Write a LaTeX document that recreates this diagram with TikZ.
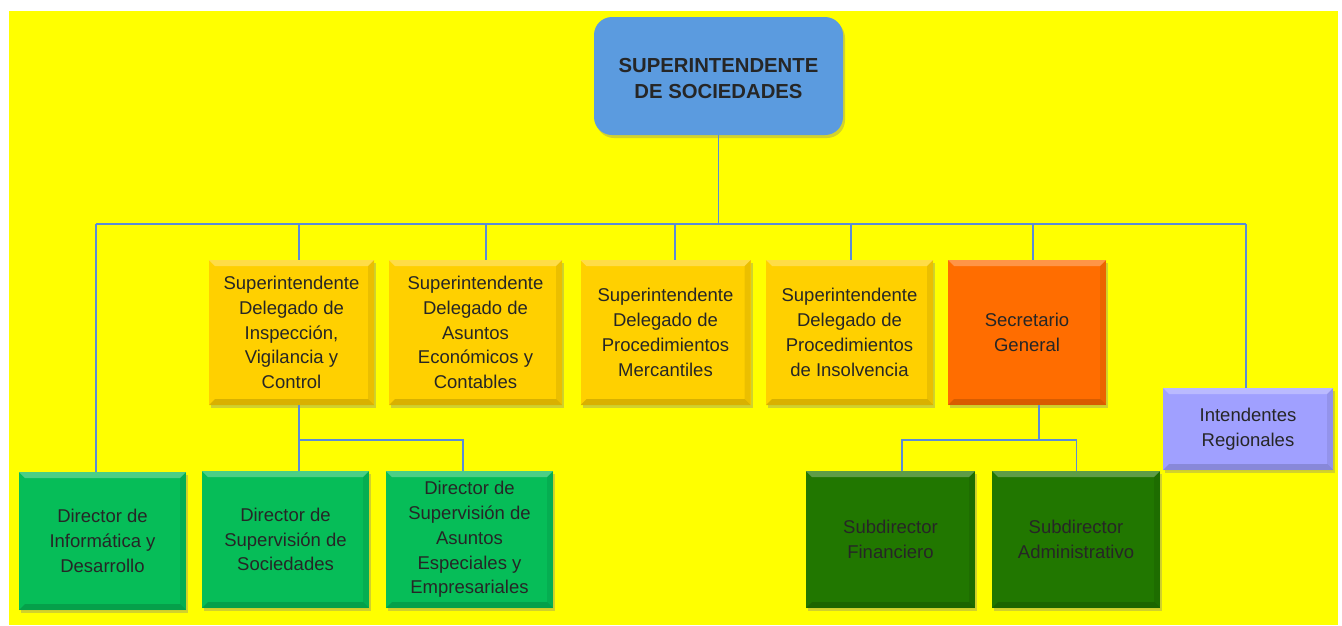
\documentclass[tikz,border=0pt]{standalone}
\usepackage{fontspec}
\setmainfont{Liberation Sans}
\usetikzlibrary{shadows,calc}
\definecolor{bgyellow}{RGB}{255,255,0}
\definecolor{topblue}{RGB}{91,155,223}
\definecolor{boxyellow}{RGB}{255,208,0}
\definecolor{boxorange}{RGB}{255,109,0}
\definecolor{boxgreen}{RGB}{6,189,88}
\definecolor{boxdark}{RGB}{33,119,0}
\definecolor{boxlav}{RGB}{160,160,255}
\definecolor{linecol}{RGB}{91,140,214}
\definecolor{txt}{RGB}{38,38,38}
\tikzset{
  bevel/.style={path picture={
    \fill[white,opacity=.28] (path picture bounding box.north west) -- (path picture bounding box.north east)
      -- ($(path picture bounding box.north east)+(-6pt,-6pt)$) -- ($(path picture bounding box.north west)+(6pt,-6pt)$) -- cycle;
    \fill[black,opacity=.15] (path picture bounding box.south west) -- (path picture bounding box.south east)
      -- ($(path picture bounding box.south east)+(-6pt,6pt)$) -- ($(path picture bounding box.south west)+(6pt,6pt)$) -- cycle;
    \fill[black,opacity=.08] (path picture bounding box.south east) -- (path picture bounding box.north east)
      -- ($(path picture bounding box.north east)+(-6pt,-6pt)$) -- ($(path picture bounding box.south east)+(-6pt,6pt)$) -- cycle;
  }},
  orgbox/.style={draw=none, align=center, inner sep=2pt, text=txt,
    font=\fontsize{18.5}{24.8}\selectfont,
    drop shadow={opacity=.35, shadow xshift=2pt, shadow yshift=-3pt}, bevel},
  conn/.style={draw=linecol, line width=1.8pt},
}
\begin{document}
\begin{tikzpicture}[x=1pt,y=-1pt]
\useasboundingbox (0,0) rectangle (1342,625);
\fill[white] (0,0) rectangle (1342,625);
\fill[bgyellow] (9,11) rectangle (1338,625);

\node[orgbox, fill=topblue, rounded corners=18pt, minimum width=249pt, minimum height=118pt,
  font=\fontsize{20.3}{26}\selectfont\bfseries, path picture={}] (top) at (718.5,76) {\strut SUPERINTENDENTE\\DE SOCIEDADES};

\node[orgbox, fill=boxyellow, minimum width=165pt, minimum height=145pt] (y1) at (291.5,332.5)
  {Superintendente\\Delegado de\\Inspección,\\Vigilancia y\\Control};
\node[orgbox, fill=boxyellow, minimum width=173pt, minimum height=145pt] (y2) at (475.5,332.5)
  {Superintendente\\Delegado de\\Asuntos\\Económicos y\\Contables};
\node[orgbox, fill=boxyellow, minimum width=170pt, minimum height=145pt] (y3) at (665.5,332.5)
  {Superintendente\\Delegado de\\Procedimientos\\Mercantiles};
\node[orgbox, fill=boxyellow, minimum width=167pt, minimum height=145pt] (y4) at (849.5,332.5)
  {Superintendente\\Delegado de\\Procedimientos\\de Insolvencia};
\node[orgbox, fill=boxorange, minimum width=158pt, minimum height=145pt] (sg) at (1027,332.5)
  {Secretario\\General};
\node[orgbox, fill=boxlav, minimum width=170pt, minimum height=82pt] (ir) at (1248,429)
  {Intendentes\\Regionales};

\node[orgbox, fill=boxgreen, minimum width=167pt, minimum height=138pt] (g1) at (102.5,541)
  {Director de\\Informática y\\Desarrollo};
\node[orgbox, fill=boxgreen, minimum width=167pt, minimum height=137pt] (g2) at (285.5,539.5)
  {Director de\\Supervisión de\\Sociedades};
\node[orgbox, fill=boxgreen, minimum width=167pt, minimum height=137pt] (g3) at (469.5,539.5)
  {Director de\\Supervisión de\\Asuntos\\Especiales y\\Empresariales};

\node[orgbox, fill=boxdark, text=txt, minimum width=169pt, minimum height=137pt] (s1) at (890.5,539.5)
  {Subdirector\\Financiero};
\node[orgbox, fill=boxdark, text=txt, minimum width=168pt, minimum height=137pt] (s2) at (1076,539.5)
  {Subdirector\\Administrativo};

\coordinate (busL) at (96,224);
\coordinate (busR) at (1246,224);
\coordinate (bus2) at (299,440);
\coordinate (bus3) at (902,440);

\draw[conn] (top.south) -- (top.south |- busL);
\draw[conn] (busL) -- (busR);
\draw[conn] (busL) -- (busL |- g1.north);
\draw[conn] (busR) -- (busR |- ir.north);
\draw[conn] ([xshift=7.5pt]y1.north |- busL) -- ([xshift=7.5pt]y1.north);
\draw[conn] ([xshift=10.5pt]y2.north |- busL) -- ([xshift=10.5pt]y2.north);
\draw[conn] ([xshift=9.5pt]y3.north |- busL) -- ([xshift=9.5pt]y3.north);
\draw[conn] ([xshift=1.5pt]y4.north |- busL) -- ([xshift=1.5pt]y4.north);
\draw[conn] ([xshift=6pt]sg.north |- busL) -- ([xshift=6pt]sg.north);

\draw[conn] ([xshift=7.5pt]y1.south) -- (bus2);
\draw[conn] (bus2) -- (bus2 |- g2.north);
\draw[conn] (bus2) -| ([xshift=-6.5pt]g3.north);

\draw[conn] ([xshift=12pt]sg.south) -- ([xshift=12pt]sg.south |- bus3);
\draw[conn] ([xshift=11.5pt]s1.north) |- ([xshift=0.5pt]s2.north |- bus3) -- ([xshift=0.5pt]s2.north);
\end{tikzpicture}
\end{document}
